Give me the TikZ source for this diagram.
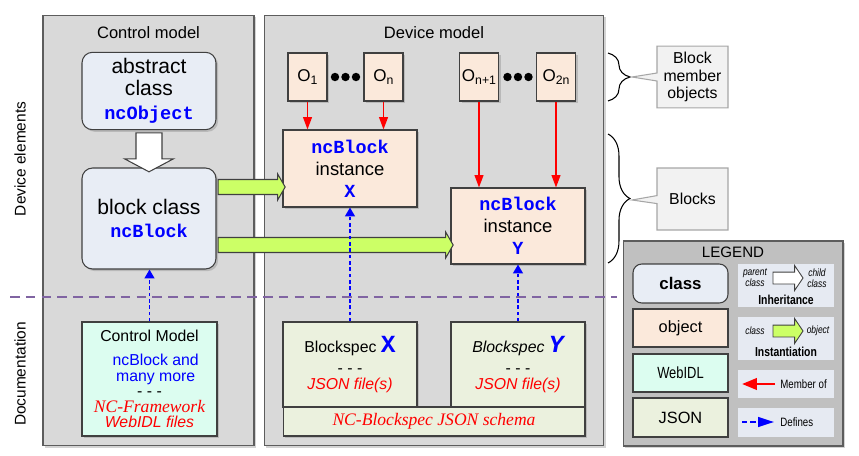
\documentclass[tikz,border=0pt]{standalone}
\usepackage{fontspec}
\setmainfont{Liberation Sans}
\setmonofont{Liberation Mono}
\newfontfamily\tmsfont{Liberation Serif}
\newfontfamily\narrowfont[FakeStretch=0.8]{Liberation Sans}
\usepackage{xcolor}
\definecolor{ncpanel}{HTML}{D9D9D9}
\definecolor{ncborder}{HTML}{404040}
\definecolor{ncclass}{HTML}{E8EDF5}
\definecolor{ncobject}{HTML}{FBE9DB}
\definecolor{ncwebidl}{HTML}{DCFDF0}
\definecolor{ncjson}{HTML}{EBF1DE}
\definecolor{nclegend}{HTML}{C0C0C0}
\definecolor{nclegbox}{HTML}{E6EAF2}
\definecolor{nccallout}{HTML}{F2F2F2}
\definecolor{nccallbd}{HTML}{A6A6A6}
\definecolor{ncgreen}{HTML}{CCFF66}
\definecolor{ncpurple}{HTML}{8064A2}
\definecolor{ncblue}{HTML}{0000FF}
\definecolor{ncred}{HTML}{FF0000}
\usepackage{tikz}
\usetikzlibrary{shapes.arrows,shapes.callouts,arrows.meta,shadows,calc,
                decorations.pathreplacing}

\newcommand{\nccode}{\ttfamily\bfseries\color{ncblue}}
\newcommand{\onode}[1]{O\raisebox{-1.6pt}{\fontsize{7}{7}\selectfont #1}}

\begin{document}
\begin{tikzpicture}[x=0.02cm, y=-0.02cm,
  shd/.style={drop shadow={shadow xshift=1.2pt, shadow yshift=-1.2pt, opacity=0.35}},
  panel/.style={draw=ncborder!85, fill=ncpanel, line width=0.6pt, shd},
  ttl/.style={font=\fontsize{9.4}{11}\selectfont},
  cls/.style={draw=ncborder, fill=ncclass, rounded corners=6pt, line width=0.6pt,
              shd, align=center, minimum width=2.68cm},
  obj/.style={draw=ncborder, fill=ncobject, line width=0.6pt, shd, align=center},
  idl/.style={draw=ncborder, fill=ncwebidl, line width=0.6pt, shd, align=center},
  jsn/.style={draw=ncborder, fill=ncjson, line width=0.6pt, shd, align=center},
  omem/.style={obj, minimum width=0.78cm, minimum height=0.96cm, inner sep=0pt,
               font=\fontsize{9.7}{10}\selectfont},
  memarr/.style={draw=ncred, line width=0.8pt, -{Triangle[length=7pt,width=5pt]}},
  defarr/.style={draw=ncblue, line width=1.1pt, dash pattern=on 2pt off 1.6pt,
                 -{Triangle[length=5pt,width=5.5pt]}},
  fat/.style={single arrow, draw=ncborder, line width=0.6pt, inner xsep=0pt,
              single arrow head indent=0pt},
  brc/.style={draw=black, line width=0.6pt, decorate,
              decoration={brace, amplitude=12.5pt}},
  call/.style={rectangle callout, draw=nccallbd, fill=nccallout, line width=0.6pt,
               callout pointer width=0.16cm, align=center,
               font=\fontsize{9}{10}\selectfont},
  lbox/.style={draw=ncborder, line width=0.6pt, minimum width=1.9cm},
  lgbox/.style={fill=nclegbox, minimum width=1.92cm},
  lgtxt/.style={font=\narrowfont\itshape\fontsize{6}{6.3}\selectfont, align=center},
  lgcap/.style={font=\narrowfont\bfseries\fontsize{7.4}{8}\selectfont}
]
  \useasboundingbox (0,0) rectangle (859,456);

  \node[panel, minimum width=4.22cm, minimum height=8.62cm] (ctrl) at (148.5,230.5) {};
  \node[panel, minimum width=6.8cm, minimum height=8.62cm] (dev) at (434,230.5) {};
  \node[ttl] (ctrlt) at (148.5,33) {Control model};
  \node[ttl] (devt)  at (434,33) {Device model};

  \node[rotate=90, font=\fontsize{8.8}{9}\selectfont] (devel) at (20,159) {Device elements};
  \node[rotate=90, font=\fontsize{8.8}{9}\selectfont] (docu)  at (20,374) {Documentation};

  \coordinate (sepL) at (10,297);
  \coordinate (sepR) at (617,297);
  \draw[ncpurple, line width=0.75pt, dash pattern=on 5.5pt off 3.5pt] (sepL) -- (sepR);

  \node[cls, minimum height=1.52cm, font=\fontsize{12}{12.5}\selectfont] (abs) at (149,91)
    {abstract\\class\\[1.5pt]{\nccode\fontsize{10.6}{12}\selectfont ncObject}};
  \node[cls, minimum height=2.02cm, font=\fontsize{12}{13}\selectfont] (blk) at (149,218.5)
    {block class\\{\nccode\fontsize{10.5}{12}\selectfont ncBlock}};
  \node[fat, fill=white, rotate=-90, inner ysep=0.25cm, single arrow head extend=0.23cm,
        single arrow tip angle=124, minimum height=0.78cm]
    (inh) at ($(abs.south)!0.5!(blk.north)$) {};

  \node[omem] (o1)  at (307.5,77) {\onode{1}};
  \node[omem] (on)  at (383.5,77) {\onode{n}};
  \node[omem] (on1) at (479,77)   {\onode{n+1}};
  \node[omem] (o2n) at (556,77)   {\onode{2n}};
  \foreach \dx in {335,345.5,356,507.5,518,528.5}
    \fill (\dx,77) circle (2.4pt);

  \node[obj, minimum width=2.68cm, minimum height=1.54cm, font=\fontsize{10.5}{12.5}\selectfont]
    (instX) at (350,168.5) {{\nccode ncBlock}\\instance\\{\nccode X}};
  \node[obj, minimum width=2.68cm, minimum height=1.52cm, font=\fontsize{10.5}{12.5}\selectfont]
    (instY) at (518,226) {{\nccode ncBlock}\\instance\\{\nccode Y}};

  \draw[memarr] (o1.south)  -- (o1.south |- instX.north);
  \draw[memarr] (on.south)  -- (on.south |- instX.north);
  \draw[memarr] (on1.south) -- (on1.south |- instY.north);
  \draw[memarr] (o2n.south) -- (o2n.south |- instY.north);

  \node[fat, fill=ncgreen, inner ysep=0.14cm, single arrow head extend=0.11cm,
        single arrow tip angle=120, minimum height=1.34cm] (ga1) at (249.5,187) {};
  \node[fat, fill=ncgreen, inner ysep=0.14cm, single arrow head extend=0.11cm,
        single arrow tip angle=120, minimum height=4.7cm] (ga2) at (333.5,245) {};

  \node[idl, minimum width=2.7cm, minimum height=2.28cm, font=\fontsize{9}{8.8}\selectfont]
    (docC) at (149.5,379)
    {Control Model\\[5pt]
     \hspace*{7pt}\textcolor{ncblue}{ncBlock and}\\
     \hspace*{7pt}\textcolor{ncblue}{many more}\\
     - - -\\
     \textcolor{ncred}{\tmsfont\itshape\fontsize{10}{8.8}\selectfont NC-Framework}\\
     \textcolor{ncred}{\itshape WebIDL files}};
  \node[jsn, minimum width=2.68cm, minimum height=1.7cm, font=\fontsize{9}{9}\selectfont]
    (bsX) at (350,364.5)
    {Blockspec {\nccode\fontsize{14}{14}\selectfont X}\\[3pt]- - -\\
     \textcolor{ncred}{\itshape JSON file(s)}};
  \node[jsn, minimum width=2.68cm, minimum height=1.7cm, font=\fontsize{9}{9}\selectfont]
    (bsY) at (518,364.5)
    {{\itshape Blockspec} {\nccode\itshape\fontsize{14}{14}\selectfont Y}\\[3pt]- - -\\
     \textcolor{ncred}{\itshape JSON file(s)}};
  \node[jsn, minimum width=6.04cm, minimum height=0.58cm, text=ncred,
        font=\tmsfont\itshape\fontsize{10}{10}\selectfont]
    (schema) at (434,421.5) {NC-Blockspec JSON schema};

  \draw[defarr] (docC.north) -- (docC.north |- blk.south);
  \draw[defarr] (bsX.north)  -- (instX.south);
  \draw[defarr] (bsY.north)  -- (instY.south);

  \coordinate (br1a) at (608,53);
  \coordinate (br1b) at (608,101);
  \coordinate (br2a) at (608,134);
  \coordinate (br2b) at (608,263);
  \draw[brc] (br1a) -- (br1b);
  \draw[brc] (br2a) -- (br2b);
  \coordinate (bmtip) at (632,77);
  \coordinate (bltip) at (632,200);
  \node[call, minimum width=1.42cm, minimum height=1.16cm, callout absolute pointer={(bmtip)}]
    (bmo) at (692.5,77) {Block\\member\\objects};
  \node[call, minimum width=1.42cm, minimum height=1.24cm, callout absolute pointer={(bltip)}]
    (blks) at (692.5,199) {Blocks};

  \node[panel, fill=nclegend, minimum width=4.4cm, minimum height=4.1cm] (leg) at (733,343.5) {};
  \node[font=\fontsize{8.6}{9}\selectfont] (legt) at (733,252) {LEGEND};

  \node[lbox, fill=ncclass, rounded corners=5pt, minimum height=0.78cm,
        font=\bfseries\fontsize{9.6}{10}\selectfont] (lcls) at (680.5,283.5) {class};
  \node[lbox, fill=ncobject, minimum height=0.76cm, font=\fontsize{9.3}{10}\selectfont]
    (lobj) at (680.5,328) {object};
  \node[lbox, fill=ncwebidl, minimum height=0.76cm, font=\narrowfont\fontsize{9.2}{10}\selectfont]
    (lidl) at (680.5,373) {WebIDL};
  \node[lbox, fill=ncjson, minimum height=0.78cm, font=\fontsize{9.3}{10}\selectfont]
    (ljsn) at (680.5,417.5) {JSON};

  \node[lgbox, minimum height=0.86cm] (linh) at (786,285.5) {};
  \node[lgtxt] (lpar) at (755,278) {parent\\class};
  \node[fat, fill=white, line width=0.5pt, inner ysep=0.11cm, single arrow head extend=0.13cm,
        single arrow tip angle=112, minimum height=0.6cm] (lwa) at (786,278) {};
  \node[lgtxt] (lchd) at (817,278) {child\\class};
  \node[lgcap] (linht) at (786,300) {Inheritance};

  \node[lgbox, minimum height=0.86cm] (lins) at (786,338.5) {};
  \node[lgtxt] (lcl) at (755,331) {class};
  \node[fat, fill=ncgreen, line width=0.5pt, inner ysep=0.11cm, single arrow head extend=0.13cm,
        single arrow tip angle=112, minimum height=0.6cm] (lga) at (786,331) {};
  \node[lgtxt] (lob) at (818,331) {object};
  \node[lgcap] (linst) at (786,352) {Instantiation};

  \node[lgbox, minimum height=0.56cm] (lmem) at (786,384) {};
  \coordinate (lmA) at (775,384);
  \coordinate (lmB) at (742,384);
  \draw[memarr, line width=1.5pt, -{Triangle[length=8.5pt,width=6.5pt]}] (lmA) -- (lmB);
  \node[anchor=west, inner sep=0pt, font=\narrowfont\fontsize{6.9}{7}\selectfont]
    (lmemt) at (780,384) {Member of};

  \node[lgbox, minimum height=0.58cm] (ldef) at (786,422.5) {};
  \coordinate (ldA) at (742,422);
  \coordinate (ldB) at (774,422);
  \draw[defarr, line width=1.1pt, dash pattern=on 3pt off 1.7pt,
        -{Triangle[length=9pt,width=5.5pt]}] (ldA) -- (ldB);
  \node[anchor=west, inner sep=0pt, font=\narrowfont\fontsize{6.9}{7}\selectfont]
    (ldeft) at (780,422) {Defines};

\end{tikzpicture}
\end{document}
